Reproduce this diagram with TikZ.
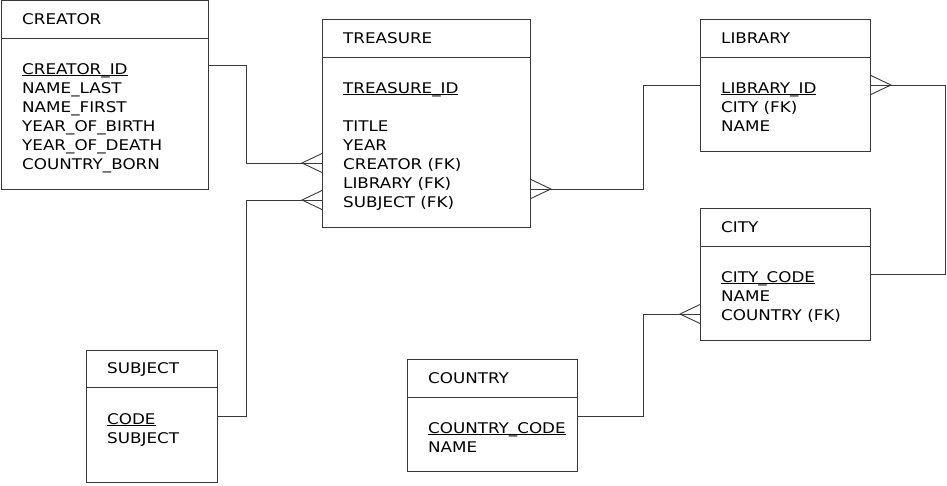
\documentclass[tikz,border=0pt]{standalone}
\usepackage{fontspec}
\setmainfont{DejaVu Sans}[FakeStretch=1.14]
\newcommand\keyul[1]{\setbox0\hbox{#1}\rlap{\rule[-2.3pt]{\wd0}{0.9pt}}\box0}
\begin{document}
\begin{tikzpicture}[x=1pt,y=-1pt,
  ent/.style={draw=black!78, line width=0.9pt, fill=white, anchor=north west, inner sep=0pt},
  lbl/.style={anchor=base west, inner sep=0pt, font=\fontsize{14.7}{19}\selectfont, text=black},
  conn/.style={draw=black!78, line width=0.9pt}]
\useasboundingbox (0,0) rectangle (947,485);

% entities
\node[ent, minimum width=207, minimum height=189] (creator) at (1,0) {};
\node[ent, minimum width=208, minimum height=208] (treasure) at (322,19) {};
\node[ent, minimum width=170, minimum height=132] (library) at (700,19) {};
\node[ent, minimum width=170, minimum height=132] (city) at (700,208) {};
\node[ent, minimum width=131, minimum height=132] (subject) at (86,350) {};
\node[ent, minimum width=170, minimum height=112] (country) at (407,359) {};

% header separators
\draw[conn] ([yshift=-38pt]creator.north west) -- ([yshift=-38pt]creator.north east);
\draw[conn] ([yshift=-38pt]treasure.north west) -- ([yshift=-38pt]treasure.north east);
\draw[conn] ([yshift=-38pt]library.north west) -- ([yshift=-38pt]library.north east);
\draw[conn] ([yshift=-38pt]city.north west) -- ([yshift=-38pt]city.north east);
\draw[conn] ([yshift=-37pt]subject.north west) -- ([yshift=-37pt]subject.north east);
\draw[conn] ([yshift=-38pt]country.north west) -- ([yshift=-38pt]country.north east);

% CREATOR
\node[lbl] (crT) at ([shift={(21,24)}]creator.north west) {CREATOR};
\node[lbl] (cr1) at ([shift={(21,74)}]creator.north west) {\keyul{CREATOR\_ID}};
\node[lbl] (cr2) at ([shift={(21,93)}]creator.north west) {NAME\_LAST};
\node[lbl] (cr3) at ([shift={(21,112)}]creator.north west) {NAME\_FIRST};
\node[lbl] (cr4) at ([shift={(21,131)}]creator.north west) {YEAR\_OF\_BIRTH};
\node[lbl] (cr5) at ([shift={(21,150)}]creator.north west) {YEAR\_OF\_DEATH};
\node[lbl] (cr6) at ([shift={(21,169)}]creator.north west) {COUNTRY\_BORN};

% TREASURE
\node[lbl] (trT) at ([shift={(21,24)}]treasure.north west) {TREASURE};
\node[lbl] (tr1) at ([shift={(21,74)}]treasure.north west) {\keyul{TREASURE\_ID}};
\node[lbl] (tr2) at ([shift={(21,112)}]treasure.north west) {TITLE};
\node[lbl] (tr3) at ([shift={(21,131)}]treasure.north west) {YEAR};
\node[lbl] (tr4) at ([shift={(21,150)}]treasure.north west) {CREATOR (FK)};
\node[lbl] (tr5) at ([shift={(21,169)}]treasure.north west) {LIBRARY (FK)};
\node[lbl] (tr6) at ([shift={(21,188)}]treasure.north west) {SUBJECT (FK)};

% LIBRARY
\node[lbl] (liT) at ([shift={(21,24)}]library.north west) {LIBRARY};
\node[lbl] (li1) at ([shift={(21,74)}]library.north west) {\keyul{LIBRARY\_ID}};
\node[lbl] (li2) at ([shift={(21,93)}]library.north west) {CITY (FK)};
\node[lbl] (li3) at ([shift={(21,112)}]library.north west) {NAME};

% CITY
\node[lbl] (ciT) at ([shift={(21,24)}]city.north west) {CITY};
\node[lbl] (ci1) at ([shift={(21,74)}]city.north west) {\keyul{CITY\_CODE}};
\node[lbl] (ci2) at ([shift={(21,93)}]city.north west) {NAME};
\node[lbl] (ci3) at ([shift={(21,112)}]city.north west) {COUNTRY (FK)};

% SUBJECT
\node[lbl] (suT) at ([shift={(21,23)}]subject.north west) {SUBJECT};
\node[lbl] (su1) at ([shift={(21,74)}]subject.north west) {\keyul{CODE}};
\node[lbl] (su2) at ([shift={(21,93)}]subject.north west) {SUBJECT};

% COUNTRY
\node[lbl] (coT) at ([shift={(21,24)}]country.north west) {COUNTRY};
\node[lbl] (co1) at ([shift={(21,74)}]country.north west) {\keyul{COUNTRY\_CODE}};
\node[lbl] (co2) at ([shift={(21,93)}]country.north west) {NAME};

% connector end points
\coordinate (crE) at ([yshift=-65pt]creator.north east);
\coordinate (trW1) at ([yshift=-144pt]treasure.north west);
\coordinate (suE) at ([yshift=-66pt]subject.north east);
\coordinate (trW2) at ([yshift=-181pt]treasure.north west);
\coordinate (trE) at ([yshift=-170pt]treasure.north east);
\coordinate (liW) at ([yshift=-66pt]library.north west);
\coordinate (liE) at ([yshift=-66pt]library.north east);
\coordinate (ciE) at ([yshift=-66pt]city.north east);
\coordinate (coE) at ([yshift=-57pt]country.north east);
\coordinate (ciW) at ([yshift=-106pt]city.north west);

% connectors
\draw[conn] (crE) -- ++(38,0) |- (trW1);
\draw[conn] (suE) -- ++(29,0) |- (trW2);
\draw[conn] (trE) -- ++(113,0) |- (liW);
\draw[conn] (liE) -- ++(75,0) |- (ciE);
\draw[conn] (coE) -- ++(66,0) |- (ciW);

% crow's feet (many side)
\draw[conn] ([shift={(0,-9.5)}]trW1) -- ([shift={(-20,0)}]trW1) -- ([shift={(0,9.5)}]trW1);
\draw[conn] ([shift={(0,-9.5)}]trW2) -- ([shift={(-20,0)}]trW2) -- ([shift={(0,9.5)}]trW2);
\draw[conn] ([shift={(0,-9.5)}]trE) -- ([shift={(20,0)}]trE) -- ([shift={(0,9.5)}]trE);
\draw[conn] ([shift={(0,-9.5)}]liE) -- ([shift={(20,0)}]liE) -- ([shift={(0,9.5)}]liE);
\draw[conn] ([shift={(0,-9.5)}]ciW) -- ([shift={(-20,0)}]ciW) -- ([shift={(0,9.5)}]ciW);
\end{tikzpicture}
\end{document}
